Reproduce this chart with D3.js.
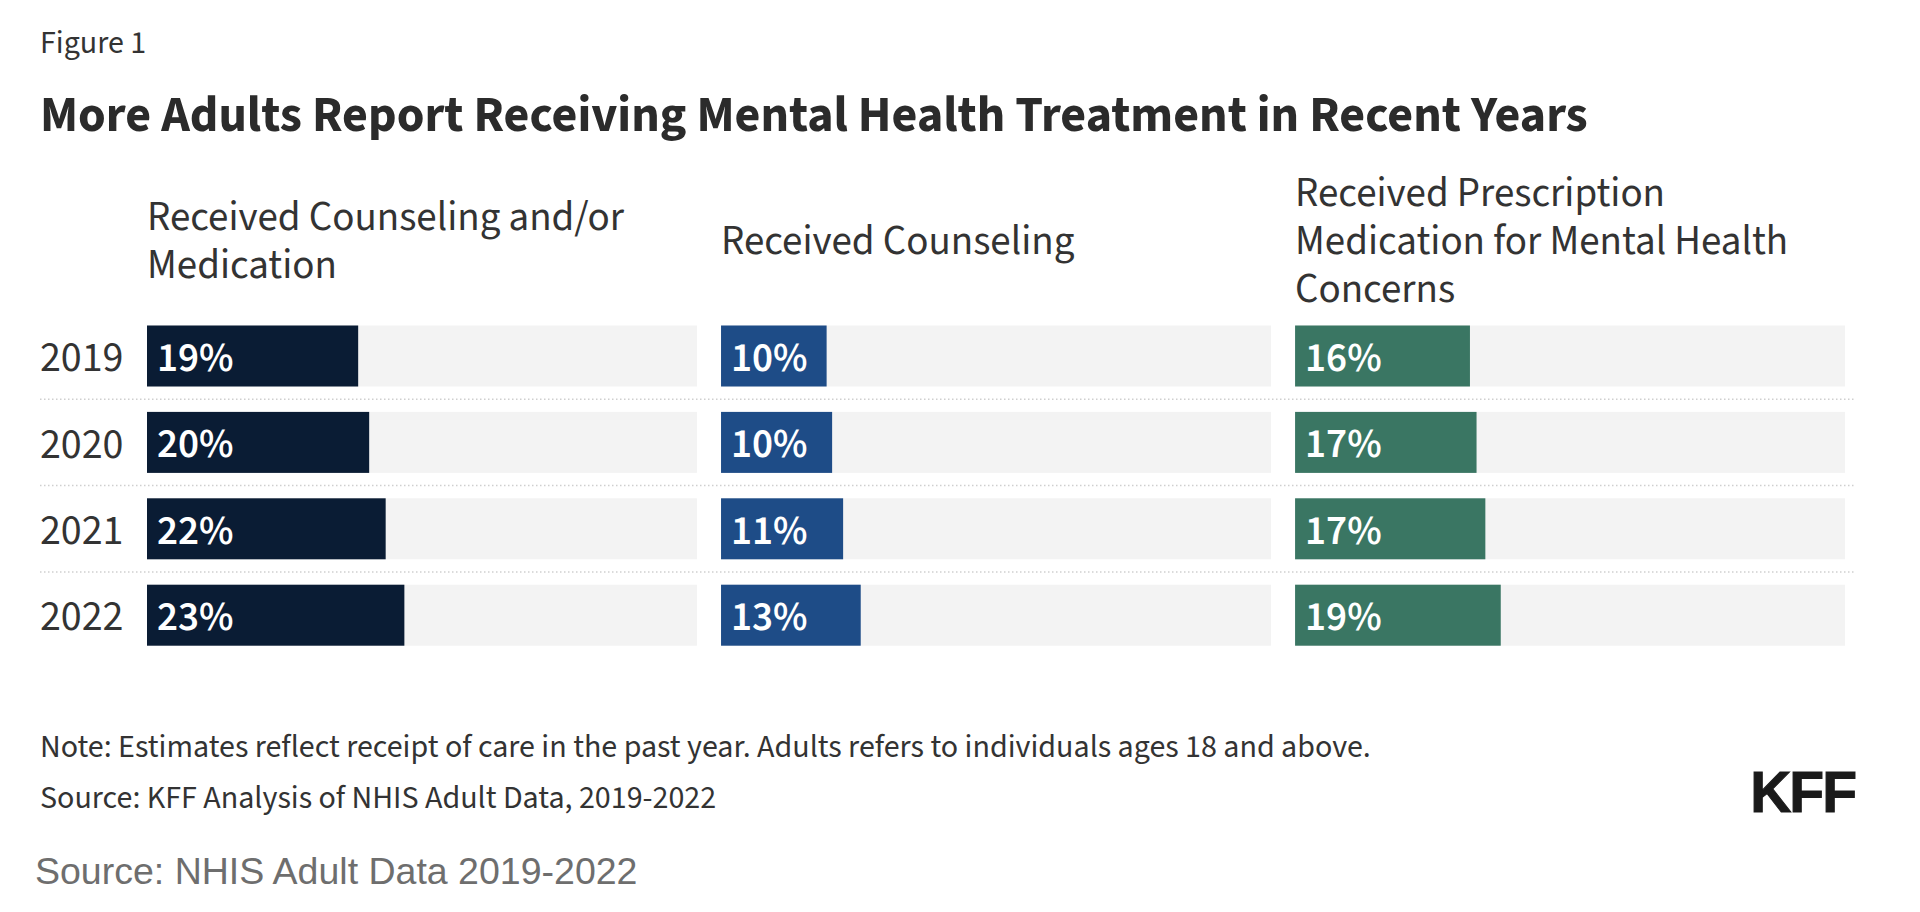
<!DOCTYPE html>
<html>
<head>
<meta charset="utf-8">
<script src="https://cdn.jsdelivr.net/npm/d3@7"></script>
<style>
  html, body { margin: 0; padding: 0; background: #fff; }
  svg { display: block; }
  .sans { font-family: "Source Sans Pro", "Source Sans 3", Lato, sans-serif; }
</style>
</head>
<body>
<div id="chart"></div>
<script>
var years = ["2019", "2020", "2021", "2022"];
var measures = ["any", "counseling", "medication"];
var headers = [
  ["Received Counseling and/or", "Medication"],
  ["Received Counseling"],
  ["Received Prescription", "Medication for Mental Health", "Concerns"]
];
var anyCare = [19.2, 20.2, 21.7, 23.4];
var counseling = [9.6, 10.1, 11.1, 12.7];
var medication = [15.9, 16.5, 17.3, 18.7];
var labels = [
  ["19%", "20%", "22%", "23%"],
  ["10%", "10%", "11%", "13%"],
  ["16%", "17%", "17%", "19%"]
];
var colors = ["#0a1c34", "#1e4c87", "#3a7663"];

var width = 1920, height = 912;

var svg = d3.select("#chart").append("svg")
    .attr("width", width)
    .attr("height", height);

svg.append("text")
    .attr("class", "sans")
    .attr("x", 40).attr("y", 53)
    .style("font-size", "32px")
    .style("fill", "#333")
    .text("Figure 1");

svg.append("text")
    .attr("class", "sans")
    .attr("x", 40).attr("y", 131)
    .style("font-size", "50px")
    .style("font-weight", 700)
    .style("fill", "#2b2b2b")
    .text("More Adults Report Receiving Mental Health Treatment in Recent Years");

var series = [anyCare, counseling, medication];

var xCol = d3.scaleBand().domain(measures).range([147, 1845]).paddingInner(0.042);
var yRow = d3.scaleBand().domain(years).range([325.5, 645.7]).paddingInner(0.294).paddingOuter(0);
var xVal = d3.scaleLinear().domain([0, 50]).range([0, xCol.bandwidth()]);

// column headers, centred on one baseline
var headerMid = 254, lineH = 48;
measures.forEach(function (m, j) {
    var t = svg.append("text")
        .attr("class", "sans")
        .style("font-size", "41px")
        .style("fill", "#333");
    headers[j].forEach(function (line, k) {
        t.append("tspan")
            .attr("x", xCol(m))
            .attr("y", headerMid + (k - (headers[j].length - 1) / 2) * lineH)
            .text(line);
    });
});

// dotted row separators
var sep = years.slice(0, -1).map(function (y) {
    return yRow(y) + yRow.bandwidth() + (yRow.step() - yRow.bandwidth()) / 2;
});
svg.selectAll(".sep")
    .data(sep)
    .enter().append("line")
    .attr("class", "sep")
    .attr("x1", 40).attr("x2", 1855)
    .attr("y1", function (d) { return d; })
    .attr("y2", function (d) { return d; })
    .style("stroke", "#cfcfcf")
    .style("stroke-width", 1.5)
    .style("stroke-dasharray", "1.5,2.5");

// year labels
svg.selectAll(".year")
    .data(years)
    .enter().append("text")
    .attr("class", "year sans")
    .attr("x", 40)
    .attr("y", function (d) { return yRow(d) + yRow.bandwidth() / 2; })
    .attr("dy", "0.36em")
    .style("font-size", "42px")
    .style("fill", "#333")
    .text(function (d) { return d; });

measures.forEach(function (m, j) {
    var g = svg.append("g").attr("transform", "translate(" + xCol(m) + ",0)");

    g.selectAll(".bg")
        .data(years)
        .enter().append("rect")
        .attr("class", "bg")
        .attr("x", 0)
        .attr("y", function (d) { return yRow(d); })
        .attr("width", xCol.bandwidth())
        .attr("height", yRow.bandwidth())
        .style("fill", "#f3f3f3");

    g.selectAll(".bar")
        .data(series[j])
        .enter().append("rect")
        .attr("class", "bar")
        .attr("x", 0)
        .attr("y", function (d, i) { return yRow(years[i]); })
        .attr("width", function (d) { return xVal(d); })
        .attr("height", yRow.bandwidth())
        .style("fill", colors[j]);

    g.selectAll(".lbl")
        .data(labels[j])
        .enter().append("text")
        .attr("class", "lbl sans")
        .attr("x", 10)
        .attr("y", function (d, i) { return yRow(years[i]) + yRow.bandwidth() / 2; })
        .attr("dy", "0.36em")
        .style("font-size", "41px")
        .style("font-weight", 600)
        .style("fill", "#fff")
        .text(function (d) { return d; });
});

svg.append("text")
    .attr("class", "sans")
    .attr("x", 40).attr("y", 757)
    .style("font-size", "32px")
    .style("fill", "#333")
    .text("Note: Estimates reflect receipt of care in the past year. Adults refers to individuals ages 18 and above.");

svg.append("text")
    .attr("class", "sans")
    .attr("x", 40).attr("y", 808)
    .style("font-size", "32px")
    .style("fill", "#333")
    .text("Source: KFF Analysis of NHIS Adult Data, 2019-2022");

svg.append("text")
    .attr("x", 1855).attr("y", 812)
    .attr("text-anchor", "end")
    .style("font-family", "'Liberation Sans', Arial, sans-serif")
    .style("font-size", "57px")
    .style("font-weight", 700)
    .style("letter-spacing", "-2px")
    .style("stroke", "#1a1a1a")
    .style("stroke-width", 1)
    .style("fill", "#1a1a1a")
    .text("KFF");

svg.append("text")
    .attr("x", 35).attr("y", 884)
    .style("font-family", "'Liberation Sans', Arial, sans-serif")
    .style("font-size", "37.5px")
    .style("fill", "#6e6e6e")
    .text("Source: NHIS Adult Data 2019-2022");
</script>
</body>
</html>
